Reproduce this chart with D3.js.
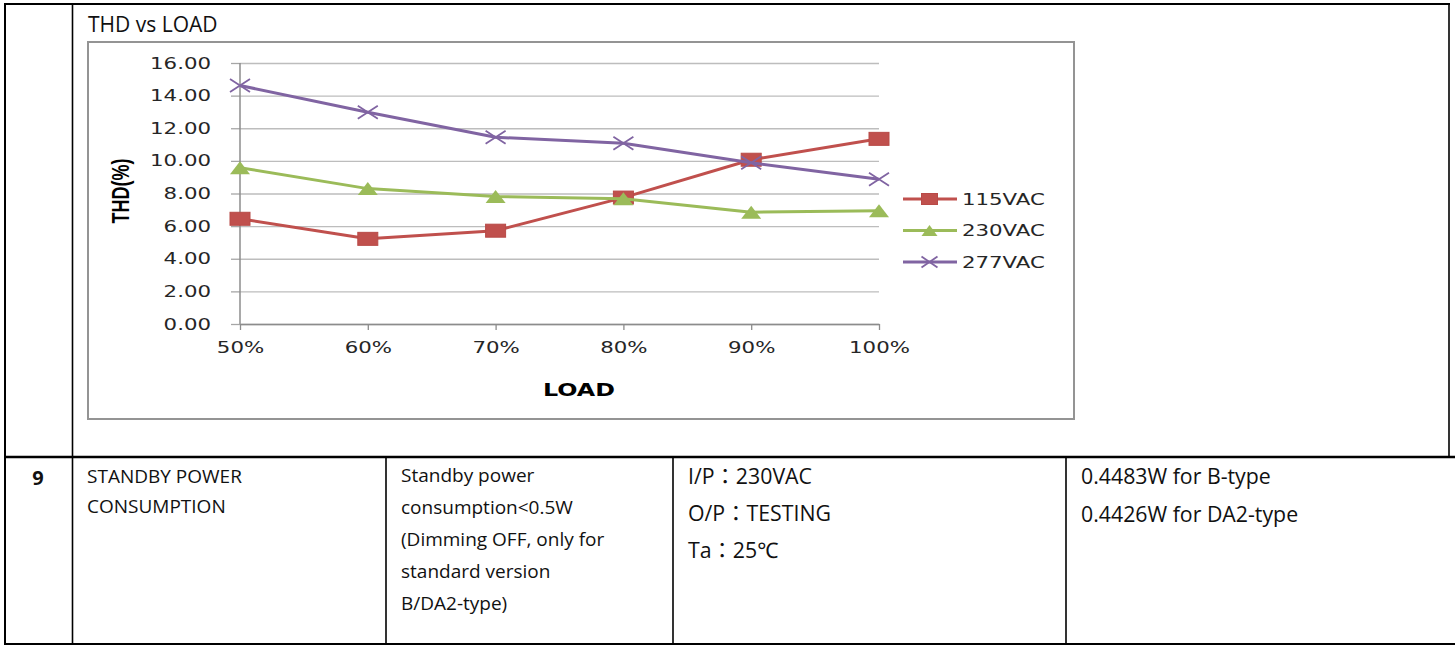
<!DOCTYPE html>
<html>
<head>
<meta charset="utf-8">
<script src="https://cdn.jsdelivr.net/npm/d3@7"></script>
<style>
  body { margin: 0; background: #fff; }
  svg { display: block; }
  .cell { font-family: "Open Sans", "Noto Sans", "Noto Sans CJK TC", sans-serif; fill: #111; }
</style>
</head>
<body>
<svg id="page" width="1455" height="646"></svg>
<script>
// chart data
const loads = ['50%', '60%', '70%', '80%', '90%', '100%'];
const thd115 = [6.45, 5.22, 5.72, 7.75, 10.07, 11.35];
const thd230 = [9.58, 8.30, 7.82, 7.68, 6.85, 6.95];
const thd277 = [14.62, 12.98, 11.45, 11.08, 9.88, 8.88];
const seriesNames = ['115VAC', '230VAC', '277VAC'];
const yTicks = [0, 2, 4, 6, 8, 10, 12, 14, 16];

// table text
const rowNo = '9';
const itemLines = ['STANDBY POWER', 'CONSUMPTION'];
const specLines = ['Standby power', 'consumption<0.5W', '(Dimming OFF, only for', 'standard version', 'B/DA2-type)'];
const condLines = ['I/P：230VAC', 'O/P：TESTING', 'Ta：25℃'];
const resultLines = ['0.4483W for B-type', '0.4426W for DA2-type'];

const colors = { '115VAC': '#C0504D', '230VAC': '#9BBB59', '277VAC': '#8064A2' };
const series = [
  { name: seriesNames[0], values: thd115, marker: 'square' },
  { name: seriesNames[1], values: thd230, marker: 'triangle' },
  { name: seriesNames[2], values: thd277, marker: 'cross' },
];

const svg = d3.select('#page');
const sx = 1.42; // chart picture is stretched sideways

// ---- table lines ----
const borders = svg.append('g').attr('stroke', '#000');
function hline(x1, x2, y, w) {
  borders.append('line').attr('x1', x1).attr('x2', x2).attr('y1', y).attr('y2', y).attr('stroke-width', w);
}
function vline(x, y1, y2, w) {
  borders.append('line').attr('x1', x).attr('x2', x).attr('y1', y1).attr('y2', y2).attr('stroke-width', w);
}
hline(4, 1450, 4, 2);
hline(4, 1455, 457, 2.5);
hline(4, 1455, 644, 2);
vline(5, 4, 644, 2);
vline(72.5, 4, 644, 1.6);
vline(1449, 4, 457, 1.6);
vline(386, 457, 644, 1.6);
vline(673, 457, 644, 1.6);
vline(1066, 457, 644, 1.6);

// ---- table text ----
function writeLines(lines, x, y0, step, size) {
  lines.forEach((t, i) => {
    svg.append('text').attr('class', 'cell')
      .attr('x', x).attr('y', y0 + i * step)
      .style('font-size', size + 'px')
      .text(t);
  });
}
svg.append('text').attr('class', 'cell')
  .attr('x', 38).attr('y', 485)
  .attr('text-anchor', 'middle')
  .style('font-size', '20px').style('font-weight', 'bold')
  .text(rowNo);
writeLines(itemLines, 87, 483, 30, 19);
writeLines(specLines, 401, 482, 32, 19);
writeLines(condLines, 688, 484, 37, 21.3);
writeLines(resultLines, 1081, 484, 37.5, 21.3);

// ---- chart title + panel ----
svg.append('text').attr('class', 'cell')
  .attr('x', 88).attr('y', 32)
  .style('font-size', '21px')
  .text('THD vs LOAD');

svg.append('rect')
  .attr('x', 88).attr('y', 42).attr('width', 986).attr('height', 377)
  .attr('fill', '#fff').attr('stroke', '#949494').attr('stroke-width', 2);

const x = d3.scalePoint().domain(loads).range([240, 879]);
const y = d3.scaleLinear().domain([0, 16]).range([324, 63]);

const chart = svg.append('g');

// gridlines + y labels
const yAxis = chart.append('g')
  .attr('transform', 'translate(240,0)')
  .call(d3.axisLeft(y).tickValues(yTicks).tickSize(9).tickFormat(d3.format('.2f')));
yAxis.select('.domain').remove();
yAxis.selectAll('.tick line').attr('stroke', '#a6a6a6').attr('stroke-width', 1.3);
yAxis.selectAll('.tick').append('line')
  .attr('x1', 0).attr('x2', 879 - 240)
  .attr('stroke', '#bdbdbd').attr('stroke-width', 1.3);
yAxis.selectAll('.tick text')
  .attr('x', null).attr('dy', null)
  .attr('transform', `translate(-29,5) scale(${sx},1)`)
  .style('font-family', '"DejaVu Sans", Verdana, sans-serif')
  .style('font-size', '15px')
  .attr('fill', '#262626');

// axis lines
chart.append('line')
  .attr('x1', 240).attr('x2', 240).attr('y1', y(16)).attr('y2', y(0))
  .attr('stroke', '#8c8c8c').attr('stroke-width', 1.5);

const xAxis = chart.append('g')
  .attr('transform', `translate(0,${y(0)})`)
  .call(d3.axisBottom(x).tickSize(6).tickSizeOuter(0));
xAxis.select('.domain').attr('stroke', '#8c8c8c').attr('stroke-width', 1.5);
xAxis.selectAll('.tick line').attr('stroke', '#8c8c8c').attr('stroke-width', 1.3);
xAxis.selectAll('.tick text')
  .attr('y', null).attr('dy', null)
  .attr('transform', `translate(0,29) scale(${sx},1)`)
  .style('font-family', '"DejaVu Sans", Verdana, sans-serif')
  .style('font-size', '15px')
  .attr('fill', '#262626');

// axis titles
chart.append('text')
  .attr('transform', `translate(579,396) scale(1.36,1)`)
  .attr('text-anchor', 'middle')
  .style('font-family', '"DejaVu Sans", Verdana, sans-serif')
  .style('font-size', '17.5px').style('font-weight', 'bold')
  .attr('fill', '#000')
  .text('LOAD');

chart.append('text')
  .attr('transform', 'translate(129,191) rotate(-90) scale(1,1.35)')
  .attr('text-anchor', 'middle')
  .style('font-family', '"Liberation Sans", Arial, sans-serif')
  .style('font-size', '18px').style('font-weight', 'bold')
  .attr('fill', '#000')
  .text('THD(%)');

// markers
function drawMarker(g, type, cx, cy, color, w, h) {
  if (type === 'square') {
    g.append('rect').attr('x', cx - w / 2).attr('y', cy - h / 2)
      .attr('width', w).attr('height', h)
      .attr('fill', color).attr('stroke', '#b84a47').attr('stroke-width', 1);
  } else if (type === 'triangle') {
    g.append('path')
      .attr('d', `M${cx},${cy - h / 2}L${cx + w / 2},${cy + h / 2}L${cx - w / 2},${cy + h / 2}Z`)
      .attr('fill', color);
  } else {
    g.append('path')
      .attr('d', `M${cx - w / 2},${cy - h / 2}L${cx + w / 2},${cy + h / 2}M${cx - w / 2},${cy + h / 2}L${cx + w / 2},${cy - h / 2}`)
      .attr('stroke', color).attr('stroke-width', 1.8).attr('fill', 'none');
  }
}

const line = d3.line().x((d, i) => x(loads[i])).y(d => y(d));

series.forEach(s => {
  const g = chart.append('g');
  g.append('path')
    .attr('d', line(s.values))
    .attr('fill', 'none')
    .attr('stroke', colors[s.name])
    .attr('stroke-width', 3)
    .attr('stroke-linejoin', 'round');
  s.values.forEach((v, i) => {
    drawMarker(g, s.marker, x(loads[i]), y(v), colors[s.name], 20, 13);
  });
});

// legend
const legend = chart.append('g');
series.forEach((s, i) => {
  const ly = 199 + i * 31.5;
  legend.append('line')
    .attr('x1', 903).attr('x2', 957).attr('y1', ly).attr('y2', ly)
    .attr('stroke', colors[s.name]).attr('stroke-width', 3);
  drawMarker(legend, s.marker, 929.5, ly, colors[s.name], 16, 11);
  legend.append('text')
    .attr('transform', `translate(962,${ly + 5.5}) scale(${sx},1)`)
    .style('font-family', '"DejaVu Sans", Verdana, sans-serif')
    .style('font-size', '15px')
    .attr('fill', '#262626')
    .text(s.name);
});
</script>
</body>
</html>
